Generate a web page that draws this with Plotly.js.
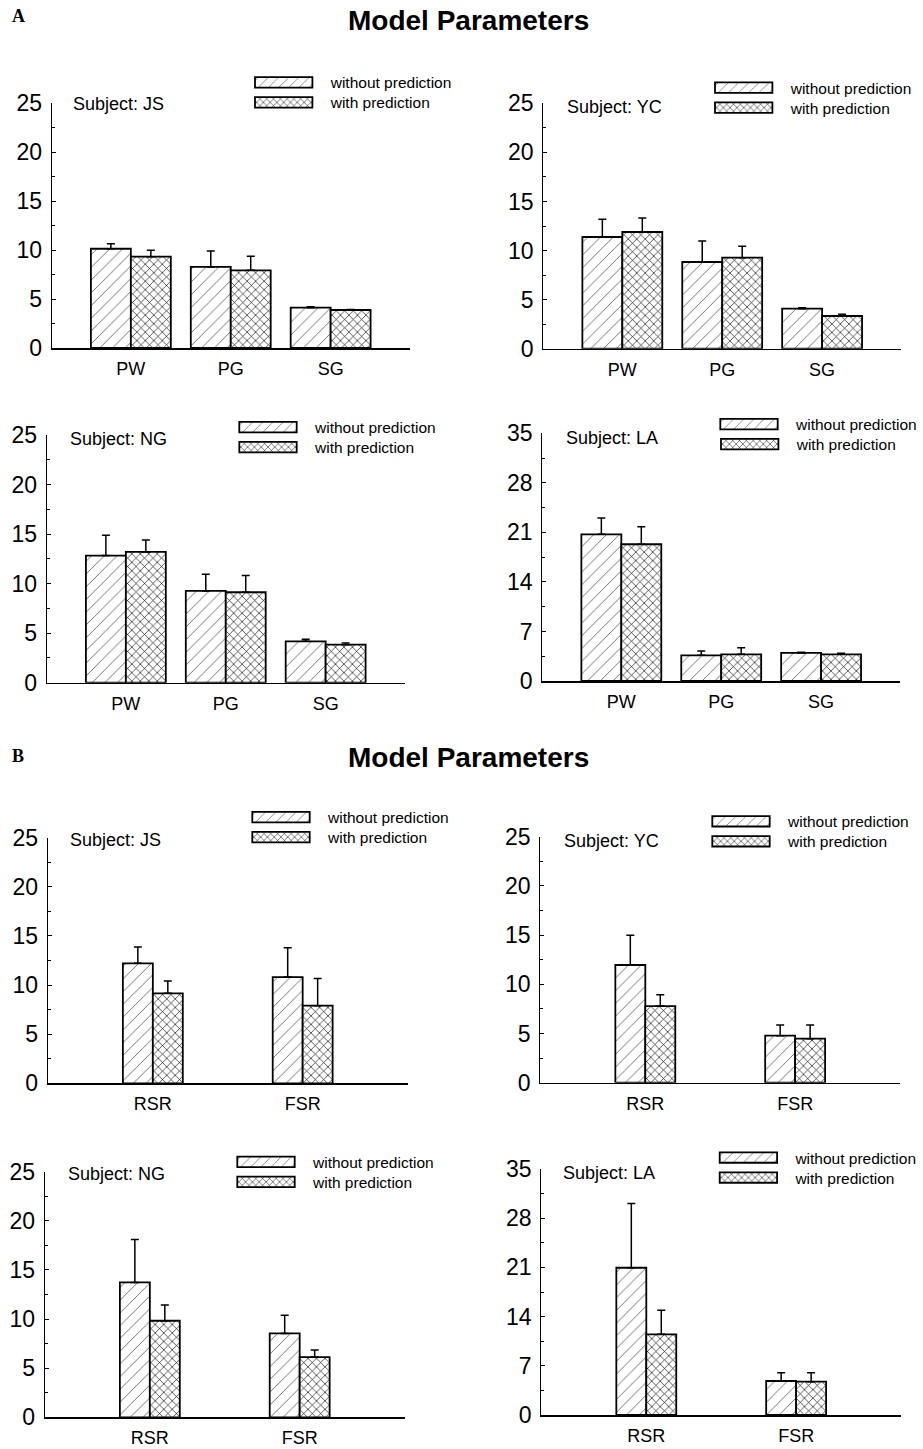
<!DOCTYPE html>
<html>
<head>
<meta charset="utf-8">
<script src="https://cdn.plot.ly/plotly-3.0.1.min.js"></script>
<style>html,body{margin:0;padding:0;background:#fff;}#chart{width:923px;height:1449px;}</style>
</head>
<body>
<div id="chart"></div>
<script>
// ---------- DATA ----------
const paramsA = ['PW', 'PG', 'SG'];
const paramsB = ['RSR', 'FSR'];
const seriesNames = ['without prediction', 'with prediction'];
const subjects = ['JS', 'YC', 'NG', 'LA'];
const figTitle = 'Model Parameters';

// Part A (PW, PG, SG)
const A_JS_without = [10.13, 8.27, 4.11];
const A_JS_without_err = [0.51, 1.63, 0.09];
const A_JS_with = [9.32, 7.93, 3.88];
const A_JS_with_err = [0.65, 1.43, 0.04];

const A_YC_without = [11.38, 8.83, 4.08];
const A_YC_without_err = [1.80, 2.14, 0.10];
const A_YC_with = [11.89, 9.27, 3.33];
const A_YC_with_err = [1.42, 1.16, 0.17];

const A_NG_without = [12.83, 9.26, 4.18];
const A_NG_without_err = [2.06, 1.69, 0.20];
const A_NG_with = [13.20, 9.13, 3.84];
const A_NG_with_err = [1.21, 1.68, 0.17];

const A_LA_without = [20.73, 3.63, 3.96];
const A_LA_without_err = [2.30, 0.61, 0.09];
const A_LA_with = [19.32, 3.77, 3.77];
const A_LA_with_err = [2.48, 0.94, 0.14];

// Part B (RSR, FSR)
const B_JS_without = [12.21, 10.81];
const B_JS_without_err = [1.66, 2.99];
const B_JS_with = [9.16, 7.90];
const B_JS_with_err = [1.25, 2.78];

const B_YC_without = [11.96, 4.78];
const B_YC_without_err = [3.02, 1.08];
const B_YC_with = [7.79, 4.47];
const B_YC_with_err = [1.15, 1.39];

const B_NG_without = [13.73, 8.54];
const B_NG_without_err = [4.37, 1.86];
const B_NG_with = [9.83, 6.13];
const B_NG_with_err = [1.59, 0.72];

const B_LA_without = [20.95, 4.84];
const B_LA_without_err = [9.15, 1.18];
const B_LA_with = [11.48, 4.74];
const B_LA_with_err = [3.41, 1.28];

// ---------- LAYOUT CONFIG (pixels) ----------
const W = 923, H = 1449;
const px = x => x / W;
const py = y => 1 - y / H;
const FONT = 'Liberation Sans, Arial, Helvetica, sans-serif';

const panels = [
  {subj: subjects[0], cats: paramsA, s: [A_JS_without, A_JS_with], e: [A_JS_without_err, A_JS_with_err], ymax: 25, dt: 5,
   box: [52, 410, 103, 348], leg: [255, 82.8], lab: [71, 104], part: 'A'},
  {subj: subjects[1], cats: paramsA, s: [A_YC_without, A_YC_with], e: [A_YC_without_err, A_YC_with_err], ymax: 25, dt: 5,
   box: [544, 902, 103.3, 348.7], leg: [715, 88], lab: [566, 106.7], part: 'A'},
  {subj: subjects[2], cats: paramsA, s: [A_NG_without, A_NG_with], e: [A_NG_without_err, A_NG_with_err], ymax: 25, dt: 5,
   box: [47, 405, 435, 682.7], leg: [239.3, 427.5], lab: [67.7, 439.3], part: 'A'},
  {subj: subjects[3], cats: paramsA, s: [A_LA_without, A_LA_with], e: [A_LA_without_err, A_LA_with_err], ymax: 35, dt: 7,
   box: [543, 901, 433.3, 681], leg: [721, 424.5], lab: [564.3, 438.3], part: 'A'},
  {subj: subjects[0], cats: paramsB, s: [B_JS_without, B_JS_with], e: [B_JS_without_err, B_JS_with_err], ymax: 25, dt: 5,
   box: [48, 408, 837.7, 1083.3], leg: [252.3, 817.5], lab: [68.3, 840], part: 'B'},
  {subj: subjects[1], cats: paramsB, s: [B_YC_without, B_YC_with], e: [B_YC_without_err, B_YC_with_err], ymax: 25, dt: 5,
   box: [541, 901, 836.7, 1082.7], leg: [712.3, 821.7], lab: [562.3, 840.7], part: 'B'},
  {subj: subjects[2], cats: paramsB, s: [B_NG_without, B_NG_with], e: [B_NG_without_err, B_NG_with_err], ymax: 25, dt: 5,
   box: [45, 405, 1171.7, 1417.3], leg: [237.3, 1162.3], lab: [65.7, 1174], part: 'B'},
  {subj: subjects[3], cats: paramsB, s: [B_LA_without, B_LA_with], e: [B_LA_without_err, B_LA_with_err], ymax: 35, dt: 7,
   box: [542, 902, 1169, 1415], leg: [719.7, 1158], lab: [561.7, 1172.7], part: 'B'}
];

const ROWGAP = 20;       // legend row spacing in px
const LEG_OFFSET = 18.3; // legend item origin to swatch left
const ITEMW = 84;

const traces = [];
const layout = {
  width: W, height: H, autosize: false,
  margin: {l: 0, r: 0, t: 0, b: 0, pad: 0},
  paper_bgcolor: '#ffffff', plot_bgcolor: 'rgba(0,0,0,0)',
  barmode: 'group', showlegend: true,
  font: {family: FONT, color: '#000'},
  annotations: [], shapes: []
};

let legIdx = 0;
panels.forEach((p, i) => {
  const n = i + 1;
  const xa = 'xaxis' + (n === 1 ? '' : n), ya = 'yaxis' + (n === 1 ? '' : n);
  const xr = 'x' + (n === 1 ? '' : n), yr = 'y' + (n === 1 ? '' : n);
  const isA = p.part === 'A';
  const bw = isA ? 0.4 : 0.2;
  const xrange = isA ? [-0.79, 2.79] : [-0.7, 1.7];

  layout[xa] = {
    domain: [px(p.box[0]), px(p.box[1])], anchor: yr,
    type: 'category', categoryorder: 'array', categoryarray: p.cats,
    range: xrange, showline: true, linecolor: '#000', linewidth: 1.5,
    ticks: '', showgrid: false, zeroline: false, fixedrange: true,
    tickfont: {family: FONT, size: 18, color: '#000'}, ticklabelstandoff: 4
  };
  layout[ya] = {
    domain: [py(p.box[3]), py(p.box[2])], anchor: xr,
    range: [0, p.ymax], tickmode: 'linear', tick0: 0, dtick: p.dt,
    showline: true, linecolor: '#000', linewidth: 1.2,
    ticks: 'inside', ticklen: 4, tickwidth: 1, tickcolor: '#000',
    minor: {ticks: 'inside', ticklen: 3, dtick: p.dt / 2, tickcolor: '#000', tickwidth: 1, showgrid: false},
    showgrid: false, zeroline: false, fixedrange: true,
    tickfont: {family: FONT, size: 23, color: '#000'}, ticklabelstandoff: 4
  };

  for (let s = 0; s < 2; s++) {
    legIdx++;
    const lname = 'legend' + (legIdx === 1 ? '' : legIdx);
    traces.push({
      type: 'bar', name: seriesNames[s], x: p.cats, y: p.s[s],
      xaxis: xr, yaxis: yr, legend: lname,
      width: bw, offset: s === 0 ? -bw : 0,
      marker: {
        color: '#ffffff',
        line: {color: '#000', width: 1.8},
        pattern: s === 0
          ? {shape: '/', fgcolor: '#222', bgcolor: '#fff', size: 9, solidity: 0.07}
          : {shape: 'x', fgcolor: '#000', bgcolor: '#fff', size: 6, solidity: 0.2}
      },
      error_y: {type: 'data', array: p.e[s], arrayminus: p.e[s].map(() => 0), symmetric: false,
                color: '#000', thickness: 1.5, width: 4, visible: true},
      hoverinfo: 'skip'
    });
    layout[lname] = {
      x: px(p.leg[0] - LEG_OFFSET), xanchor: 'left',
      y: py(p.leg[1] + s * ROWGAP), yanchor: 'middle',
      bgcolor: 'rgba(0,0,0,0)', borderwidth: 0,
      itemwidth: ITEMW, itemclick: false, itemdoubleclick: false,
      font: {family: FONT, size: 15.5, color: '#000'}
    };
  }

  layout.annotations.push({
    xref: 'paper', yref: 'paper', x: px(p.lab[0]), y: py(p.lab[1]),
    xanchor: 'left', yanchor: 'middle', showarrow: false,
    text: 'Subject: ' + p.subj, font: {family: FONT, size: 18, color: '#000'}
  });
});

// Figure titles and part letters
[[21, 'A', 16], [757, 'B', 756]].forEach(([ty, letter, ly]) => {
  layout.annotations.push({
    xref: 'paper', yref: 'paper', x: px(469), y: py(ty), xanchor: 'center', yanchor: 'middle',
    showarrow: false, text: '<b>' + figTitle + '</b>',
    font: {family: FONT, size: 28, color: '#000'}
  });
  layout.annotations.push({
    xref: 'paper', yref: 'paper', x: px(10), y: py(ly), xanchor: 'left', yanchor: 'middle',
    showarrow: false, text: '<b>' + letter + '</b>',
    font: {family: 'Liberation Serif, Times New Roman, serif', size: 18, color: '#000'}
  });
});

function widenLegendSwatches(gd) {
  const half = 28.7, hh = 5.2;
  gd.querySelectorAll('g.legendpoints path').forEach(path => {
    const d = path.getAttribute('d') || '';
    if (d.indexOf('M6,6H-6V-6H6Z') === 0) {
      path.setAttribute('d', 'M' + half + ',' + hh + 'H-' + half + 'V-' + hh + 'H' + half + 'Z');
    }
  });
}

const gd = document.getElementById('chart');
Plotly.newPlot(gd, traces, layout, {staticPlot: true, displayModeBar: false}).then(() => {
  widenLegendSwatches(gd);
  gd.on('plotly_afterplot', () => widenLegendSwatches(gd));
});
</script>
</body>
</html>
